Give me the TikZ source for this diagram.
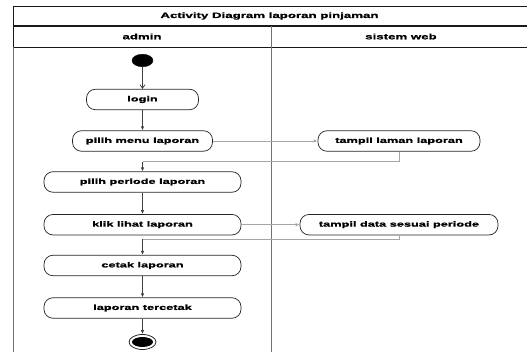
\documentclass[tikz,border=0pt]{standalone}
\usepackage{fontspec}
\setmainfont{Liberation Sans}[FakeStretch=1.7, BoldFeatures={FakeBold=1.2}]
\usetikzlibrary{arrows.meta,shapes.geometric}
\tikzset{
  act/.style={draw=black!85, line width=0.7pt, rounded corners=9pt, minimum height=20.5pt, inner sep=0pt, font=\fontsize{7.5}{9}\selectfont\bfseries},
  flow/.style={draw=black!75, line width=0.8pt, -{Latex[length=4pt,width=3.5pt]}},
  cross/.style={draw=black!35, line width=0.8pt, -{Latex[length=4pt,width=3.5pt]}},
  hdr/.style={font=\fontsize{7.8}{9}\selectfont\bfseries},
}
\begin{document}
\begin{tikzpicture}[x=1pt,y=-1pt]
\useasboundingbox (0,0) rectangle (527,352);
\begin{scope}
\clip (0,0) rectangle (527,352);
% frame
\draw[black!90, line width=0.9pt] (13,6) -- (530,6);
\draw[black!90, line width=2pt] (13,26) -- (530,26);
\draw[black!90, line width=0.9pt] (13,47) -- (530,47);
\draw[black!90, line width=0.9pt] (13,6) -- (13,47);
\draw[black!55, line width=0.9pt] (13,47) -- (13,353);
\draw[black!55, line width=1.3pt] (271.5,26) -- (271.5,353);
\end{scope}
\node[hdr] (title) at (269.5,16) {Activity Diagram laporan pinjaman};
\node[hdr] (lane1) at (142,36.5) {admin};
\node[hdr] (lane2) at (401,36.5) {sistem web};
% nodes
\node[ellipse, fill=black, draw=black, minimum width=21pt, minimum height=12.5pt, inner sep=0pt] (start) at (142.5,60.5) {};
\node[act, minimum width=112pt] (login) at (142.5,99.5) {login};
\node[act, minimum width=140pt] (menu) at (142.5,141) {pilih menu laporan};
\node[act, minimum width=162pt] (laman) at (399,141) {tampil laman laporan};
\node[act, minimum width=197pt] (periode) at (142.5,182) {pilih periode laporan};
\node[act, minimum width=197pt] (klik) at (142.5,224.7) {klik lihat laporan};
\node[act, minimum width=198pt] (data) at (399,224.7) {tampil data sesuai periode};
\node[act, minimum width=197pt] (cetak) at (142.5,265.5) {cetak laporan};
\node[act, minimum width=197pt] (tercetak) at (142.5,308) {laporan tercetak};
\node[ellipse, draw=black!85, line width=0.8pt, minimum width=27pt, minimum height=15pt, inner sep=0pt] (end) at (142.5,342) {};
\node[ellipse, fill=black, minimum width=21pt, minimum height=10pt, inner sep=0pt] (endin) at (142.5,342) {};
\coordinate (r1) at (142.5,161.7);
\coordinate (r2) at (142.5,239.5);
% connectors
\draw[draw=black!75, line width=0.8pt, -{Straight Barb[length=3.5pt,width=5pt]}] (start) -- (login);
\draw[flow] (login) -- (menu);
\draw[cross] (menu) -- (laman);
\draw[draw=black!35, line width=0.8pt] (laman.south) |- (r1);
\draw[flow] (r1) -- (periode.north);
\draw[flow] (periode) -- (klik);
\draw[cross] (klik) -- (data);
\draw[draw=black!35, line width=0.8pt] (data.south) |- (r2);
\draw[flow] (r2) -- (cetak.north);
\draw[flow] (cetak) -- (tercetak);
\draw[flow] (tercetak) -- (end);
\end{tikzpicture}
\end{document}
